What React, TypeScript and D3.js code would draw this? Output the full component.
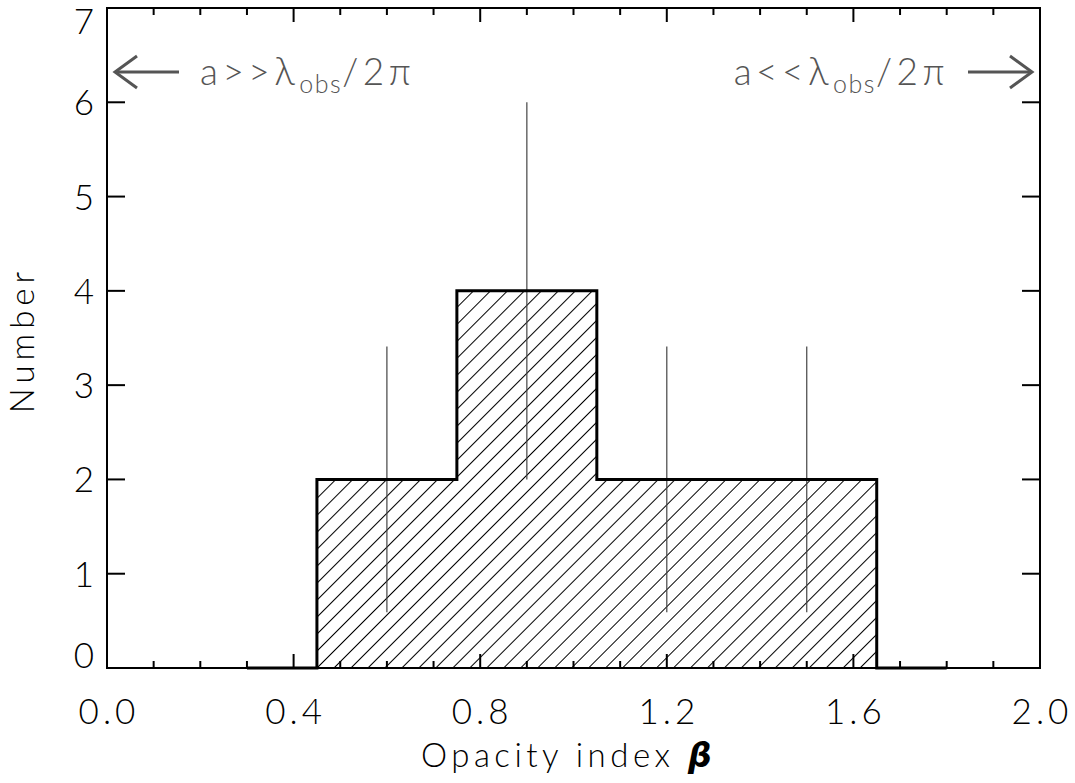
import React from 'react';
import * as d3 from 'd3';

// histogram: bin centres and counts (IDL style step outline)
const binCenters = [0.3, 0.6, 0.9, 1.2, 1.5, 1.8];
const counts = [0, 2, 4, 2, 2, 0];
// error bars (Poisson)
const errX = [0.6, 0.9, 1.2, 1.5];
const errLow = [0.59, 2, 0.59, 0.59];
const errHigh = [3.41, 6, 3.41, 3.41];

const xTickLabels = ['0.0', '0.4', '0.8', '1.2', '1.6', '2.0'];
const yTickLabels = ['0', '1', '2', '3', '4', '5', '6', '7'];

const W = 1075;
const H = 783;
const margin = { left: 107, right: 35, top: 8, bottom: 115 };
const FONT = "Lato, 'Open Sans', 'DejaVu Sans', sans-serif";

export default function App() {
  const x = d3.scaleLinear().domain([0, 2]).range([margin.left, W - margin.right]);
  const y = d3.scaleLinear().domain([0, 7]).range([H - margin.bottom, margin.top]);
  const binW = 0.3;

  // step outline
  const pts: [number, number][] = [];
  binCenters.forEach((c, i) => {
    const x0 = i === 0 ? c : c - binW / 2;
    const x1 = i === binCenters.length - 1 ? c : c + binW / 2;
    pts.push([x0, counts[i]]);
    pts.push([x1, counts[i]]);
  });
  const line = d3.line<[number, number]>().x(d => x(d[0])).y(d => y(d[1]));
  const outline = line(pts) || '';

  const fillPts = pts.filter((_, i) => i > 1 && i < pts.length - 2);
  const area = d3.area<[number, number]>().x(d => x(d[0])).y0(y(0)).y1(d => y(d[1]));
  const fillPath = area(fillPts) || '';

  const xMajor = xTickLabels.map(Number);
  const xMinor = d3.range(0, 2.0001, 0.1).filter(v => Math.abs(v / 0.4 - Math.round(v / 0.4)) > 1e-6);
  const yMajor = yTickLabels.map(Number);

  const x0 = x(0), x1 = x(2), yb = y(0), yt = y(7);
  const gray = '#555';

  // IDL puts the end labels inside the axis range
  const yLabelBase = (v: number) => {
    if (v === 0) return y(v);
    if (v === 7) return y(v) + 26;
    return y(v) + 13;
  };

  return (
    <svg width={W} height={H} style={{ position: 'absolute', left: 0, top: 0, background: '#fff' }}
      fontFamily={FONT}>
      <defs>
        <pattern id="hatch" patternUnits="userSpaceOnUse" width={12} height={12} patternTransform="rotate(45)">
          <line x1={0} y1={0} x2={0} y2={12} stroke="#000" strokeWidth={1} shapeRendering="crispEdges" />
        </pattern>
      </defs>

      <path d={fillPath} fill="url(#hatch)" stroke="none" />

      {/* error bars */}
      {errX.map((v, i) => (
        <line key={i} x1={x(v)} x2={x(v)} y1={y(errLow[i])} y2={y(errHigh[i])} stroke="#444" strokeWidth={1.2} />
      ))}

      <path d={outline} fill="none" stroke="#000" strokeWidth={3} />

      {/* frame */}
      <rect x={x0} y={yt} width={x1 - x0} height={yb - yt} fill="none" stroke="#000" strokeWidth={2} />

      {/* x ticks */}
      {xMajor.map(v => (
        <g key={'xm' + v}>
          <line x1={x(v)} x2={x(v)} y1={yb} y2={yb - 14} stroke="#000" strokeWidth={2} />
          <line x1={x(v)} x2={x(v)} y1={yt} y2={yt + 14} stroke="#000" strokeWidth={2} />
        </g>
      ))}
      {xMinor.map(v => (
        <g key={'xn' + v}>
          <line x1={x(v)} x2={x(v)} y1={yb} y2={yb - 7} stroke="#000" strokeWidth={2} />
          <line x1={x(v)} x2={x(v)} y1={yt} y2={yt + 7} stroke="#000" strokeWidth={2} />
        </g>
      ))}
      {/* y ticks */}
      {yMajor.map(v => (
        <g key={'ym' + v}>
          <line x1={x0} x2={x0 + 18} y1={y(v)} y2={y(v)} stroke="#000" strokeWidth={2} />
          <line x1={x1} x2={x1 - 18} y1={y(v)} y2={y(v)} stroke="#000" strokeWidth={2} />
        </g>
      ))}

      {/* tick labels */}
      {xTickLabels.map(t => (
        <text key={'xl' + t} x={x(+t) + 2} y={yb + 56} textAnchor="middle" fontSize={35} fontWeight={300}
          letterSpacing={4} fill="#000">{t}</text>
      ))}
      {yTickLabels.map(t => (
        <text key={'yl' + t} x={x0 - 13} y={yLabelBase(+t)} textAnchor="end" fontSize={35} fontWeight={300}
          fill="#000">{t}</text>
      ))}

      {/* axis titles */}
      <text x={(x0 + x1) / 2 - 5} y={767} textAnchor="middle" fontSize={33} fontWeight={300} letterSpacing={4.5} fill="#000">
        Opacity index <tspan fontWeight={700} fontStyle="italic" fontFamily="'DejaVu Sans', sans-serif">β</tspan>
      </text>
      <text transform={`translate(34, ${(yb + yt) / 2 + 2}) rotate(-90)`} textAnchor="middle" fontSize={33}
        fontWeight={300} letterSpacing={5} fill="#000">Number</text>

      {/* annotations */}
      <g stroke={gray} strokeWidth={3} fill="none">
        <line x1={x0 + 8} x2={x0 + 72} y1={72} y2={72} />
        <polyline points={`${x0 + 30},56 ${x0 + 8},72 ${x0 + 30},88`} />
        <line x1={x1 - 8} x2={x1 - 72} y1={72} y2={72} />
        <polyline points={`${x1 - 30},56 ${x1 - 8},72 ${x1 - 30},88`} />
      </g>
      <text x={200} y={85} fontSize={37} fontWeight={300} letterSpacing={4.5} fill={gray}>
        a&gt;&gt;<tspan fontSize={39}>λ</tspan><tspan fontSize={25} dy={8} letterSpacing={1.5}>obs</tspan><tspan dy={-8}>/2π</tspan>
      </text>
      <text x={949} y={85} textAnchor="end" fontSize={37} fontWeight={300} letterSpacing={4.5} fill={gray}>
        a&lt;&lt;<tspan fontSize={39}>λ</tspan><tspan fontSize={25} dy={8} letterSpacing={1.5}>obs</tspan><tspan dy={-8}>/2π</tspan>
      </text>
    </svg>
  );
}
